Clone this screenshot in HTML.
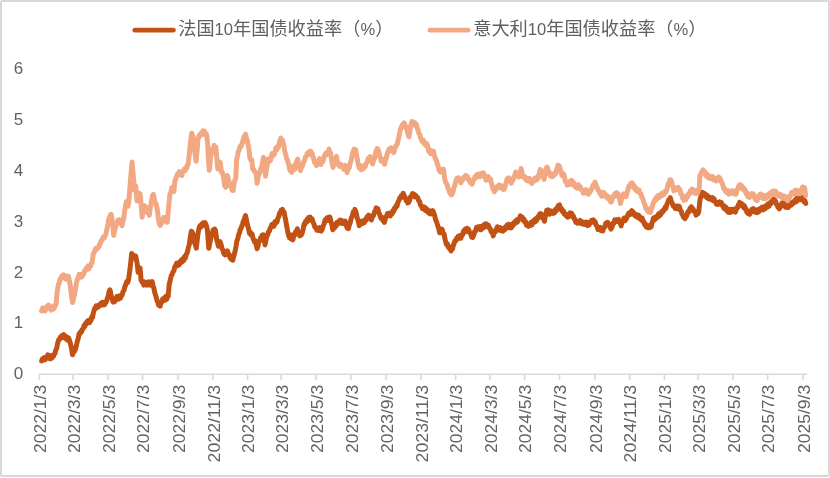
<!DOCTYPE html>
<html lang="zh-CN"><head><meta charset="utf-8"><title>法国与意大利10年国债收益率</title>
<style>
html,body{margin:0;padding:0;background:#fff;}
body{width:830px;height:478px;overflow:hidden;position:relative;}
svg{position:absolute;left:0;top:0;display:block;}
.ax{font-family:"Liberation Sans",sans-serif;font-size:17px;fill:#626262;}
.lg{font-family:"Liberation Sans","Noto Sans CJK SC",sans-serif;font-size:18.2px;fill:#5f5f5f;}
.lg .n{font-size:16.6px;}
</style></head><body>
<svg width="830" height="478" viewBox="0 0 830 478">
<rect x="0" y="0" width="830" height="478" fill="#fff"/>
<rect x="1" y="1" width="828" height="475" rx="1" fill="#fff" stroke="#d9d9d9" stroke-width="2"/>

<g stroke="#d9d9d9" stroke-width="1.6" fill="none">
<path d="M38.8,374.25 H807"/>
<path d="M39.4,374.25 V380 M73.0,374.25 V380 M107.8,374.25 V380 M142.6,374.25 V380 M178.0,374.25 V380 M212.8,374.25 V380 M247.6,374.25 V380 M281.2,374.25 V380 M316.0,374.25 V380 M350.8,374.25 V380 M386.1,374.25 V380 M420.9,374.25 V380 M455.7,374.25 V380 M489.9,374.25 V380 M524.7,374.25 V380 M559.5,374.25 V380 M594.9,374.25 V380 M629.7,374.25 V380 M664.4,374.25 V380 M698.1,374.25 V380 M732.9,374.25 V380 M767.7,374.25 V380 M803.0,374.25 V380 "/></g>
<g class="ax" text-anchor="start">
<text x="13.7" y="379.2">0</text>
<text x="13.7" y="328.4">1</text>
<text x="13.7" y="277.6">2</text>
<text x="13.7" y="226.8">3</text>
<text x="13.7" y="175.9">4</text>
<text x="13.7" y="125.1">5</text>
<text x="13.7" y="74.3">6</text>
</g>
<g class="ax" text-anchor="end">
<text transform="translate(46.1,384.8) rotate(-90)" textLength="68.3" lengthAdjust="spacingAndGlyphs">2022/1/3</text>
<text transform="translate(79.7,384.8) rotate(-90)" textLength="68.3" lengthAdjust="spacingAndGlyphs">2022/3/3</text>
<text transform="translate(114.5,384.8) rotate(-90)" textLength="68.3" lengthAdjust="spacingAndGlyphs">2022/5/3</text>
<text transform="translate(149.3,384.8) rotate(-90)" textLength="68.3" lengthAdjust="spacingAndGlyphs">2022/7/3</text>
<text transform="translate(184.7,384.8) rotate(-90)" textLength="68.3" lengthAdjust="spacingAndGlyphs">2022/9/3</text>
<text transform="translate(219.5,384.8) rotate(-90)" textLength="77.6" lengthAdjust="spacingAndGlyphs">2022/11/3</text>
<text transform="translate(254.3,384.8) rotate(-90)" textLength="68.3" lengthAdjust="spacingAndGlyphs">2023/1/3</text>
<text transform="translate(287.9,384.8) rotate(-90)" textLength="68.3" lengthAdjust="spacingAndGlyphs">2023/3/3</text>
<text transform="translate(322.7,384.8) rotate(-90)" textLength="68.3" lengthAdjust="spacingAndGlyphs">2023/5/3</text>
<text transform="translate(357.5,384.8) rotate(-90)" textLength="68.3" lengthAdjust="spacingAndGlyphs">2023/7/3</text>
<text transform="translate(392.8,384.8) rotate(-90)" textLength="68.3" lengthAdjust="spacingAndGlyphs">2023/9/3</text>
<text transform="translate(427.6,384.8) rotate(-90)" textLength="77.6" lengthAdjust="spacingAndGlyphs">2023/11/3</text>
<text transform="translate(462.4,384.8) rotate(-90)" textLength="68.3" lengthAdjust="spacingAndGlyphs">2024/1/3</text>
<text transform="translate(496.6,384.8) rotate(-90)" textLength="68.3" lengthAdjust="spacingAndGlyphs">2024/3/3</text>
<text transform="translate(531.4,384.8) rotate(-90)" textLength="68.3" lengthAdjust="spacingAndGlyphs">2024/5/3</text>
<text transform="translate(566.2,384.8) rotate(-90)" textLength="68.3" lengthAdjust="spacingAndGlyphs">2024/7/3</text>
<text transform="translate(601.6,384.8) rotate(-90)" textLength="68.3" lengthAdjust="spacingAndGlyphs">2024/9/3</text>
<text transform="translate(636.4,384.8) rotate(-90)" textLength="77.6" lengthAdjust="spacingAndGlyphs">2024/11/3</text>
<text transform="translate(671.1,384.8) rotate(-90)" textLength="68.3" lengthAdjust="spacingAndGlyphs">2025/1/3</text>
<text transform="translate(704.8,384.8) rotate(-90)" textLength="68.3" lengthAdjust="spacingAndGlyphs">2025/3/3</text>
<text transform="translate(739.6,384.8) rotate(-90)" textLength="68.3" lengthAdjust="spacingAndGlyphs">2025/5/3</text>
<text transform="translate(774.4,384.8) rotate(-90)" textLength="68.3" lengthAdjust="spacingAndGlyphs">2025/7/3</text>
<text transform="translate(809.7,384.8) rotate(-90)" textLength="68.3" lengthAdjust="spacingAndGlyphs">2025/9/3</text>
</g>
<path d="M41.6,361.0 L42.4,358.8 L43.2,360.0 L44.1,357.7 L45.1,359.8 L46.0,357.5 L46.8,358.3 L47.7,354.9 L48.5,356.4 L49.4,355.5 L50.2,358.9 L51.1,357.0 L51.9,358.0 L52.6,355.3 L53.4,356.3 L54.1,354.3 L55.0,353.4 L55.8,349.8 L56.7,348.4 L57.4,344.5 L58.1,341.6 L58.9,339.4 L59.6,339.5 L60.4,337.1 L61.1,337.9 L62.0,335.5 L62.8,336.6 L63.7,334.5 L64.5,337.8 L65.3,335.8 L66.1,339.0 L66.8,336.8 L67.6,340.3 L68.3,337.6 L69.1,339.3 L70.1,342.4 L71.1,346.4 L71.8,350.2 L72.6,354.8 L73.5,351.8 L74.3,351.8 L75.2,349.8 L76.2,346.6 L77.2,341.7 L78.2,338.6 L79.2,333.6 L80.0,333.7 L80.7,331.5 L81.5,332.0 L82.2,329.5 L83.2,328.8 L84.2,325.2 L85.0,326.3 L85.7,323.1 L86.5,323.7 L87.2,321.2 L88.0,322.7 L88.7,320.2 L89.5,322.8 L90.2,320.4 L91.0,320.5 L91.8,316.9 L92.6,317.3 L93.2,313.7 L93.8,311.3 L94.6,308.4 L95.4,308.6 L96.2,305.7 L97.0,307.7 L97.7,305.8 L98.5,306.8 L99.2,304.7 L100.0,305.6 L100.8,303.4 L101.5,304.8 L102.3,302.2 L103.0,305.0 L103.8,302.6 L104.5,304.7 L105.3,303.2 L106.3,301.9 L107.3,298.5 L108.2,296.3 L109.0,292.0 L109.9,289.8 L110.6,292.5 L111.3,296.5 L112.0,297.7 L112.7,301.2 L113.4,302.1 L114.3,302.1 L115.3,298.7 L116.0,300.2 L116.8,296.5 L117.5,299.4 L118.3,296.4 L119.0,299.0 L119.8,295.7 L120.5,298.2 L121.3,296.0 L122.2,294.9 L123.0,291.7 L123.9,290.7 L124.9,286.6 L125.9,284.4 L126.8,281.5 L127.6,282.6 L128.5,280.0 L129.3,274.3 L130.1,268.1 L130.9,261.0 L131.7,253.5 L132.7,256.1 L133.7,255.4 L134.7,258.2 L135.7,256.0 L136.4,259.9 L137.1,263.1 L138.1,272.3 L139.1,269.2 L140.1,268.1 L141.1,280.2 L142.1,282.1 L143.1,282.5 L143.8,285.2 L144.6,281.9 L145.3,284.2 L146.1,282.6 L146.8,285.2 L147.6,282.3 L148.3,284.8 L149.1,281.9 L149.9,285.3 L150.6,282.2 L151.4,283.9 L152.2,281.6 L153.0,285.6 L153.8,287.9 L154.8,292.7 L155.8,295.9 L156.8,299.9 L157.8,302.1 L158.6,305.1 L159.4,303.3 L160.2,306.1 L161.0,302.6 L161.8,302.2 L162.6,299.1 L163.5,300.5 L164.3,297.8 L165.2,300.1 L165.9,296.4 L166.7,299.3 L167.4,295.8 L168.2,296.4 L169.2,284.3 L170.2,280.5 L171.2,275.8 L172.1,274.6 L172.9,271.9 L173.8,271.0 L174.8,267.0 L175.8,265.5 L176.7,263.1 L177.5,265.8 L178.3,263.2 L179.2,264.9 L180.0,261.5 L180.8,262.9 L181.5,259.9 L182.3,261.8 L183.1,258.5 L183.8,260.5 L184.6,256.5 L185.3,258.1 L186.3,254.3 L187.3,252.5 L188.3,247.9 L189.3,244.4 L190.3,237.4 L191.3,231.3 L192.0,231.7 L192.7,233.3 L193.5,237.5 L194.3,242.3 L195.3,244.5 L196.3,248.2 L197.1,241.0 L197.9,234.2 L198.6,230.4 L199.3,227.3 L200.1,225.5 L200.8,227.2 L201.6,224.2 L202.3,225.9 L203.2,222.7 L204.1,224.7 L205.0,222.6 L205.9,224.2 L206.7,226.7 L207.4,230.1 L208.1,239.0 L208.8,248.2 L209.6,244.0 L210.4,240.5 L211.4,236.0 L212.4,232.6 L213.2,229.9 L213.9,232.4 L214.7,229.0 L215.4,230.2 L216.1,235.0 L216.8,240.3 L217.6,242.7 L218.4,246.3 L219.2,242.9 L220.0,241.7 L221.0,244.2 L222.0,248.7 L222.8,249.9 L223.6,252.9 L224.4,254.3 L225.2,254.9 L225.9,251.8 L226.7,253.7 L227.4,250.9 L228.3,254.0 L229.1,254.2 L230.0,257.8 L230.7,256.5 L231.4,259.4 L232.1,258.0 L232.8,260.1 L233.5,256.9 L234.2,254.9 L234.9,251.9 L235.9,246.9 L236.9,240.9 L237.8,238.7 L238.6,234.8 L239.5,232.9 L240.2,229.4 L241.0,228.9 L241.8,225.8 L242.5,225.1 L243.2,221.5 L244.0,220.6 L244.8,217.5 L245.5,215.7 L246.5,219.9 L247.5,225.3 L248.5,228.5 L249.5,233.4 L250.4,232.3 L251.2,235.1 L252.1,233.9 L252.8,237.3 L253.5,239.1 L254.5,242.0 L255.5,240.9 L256.3,245.2 L257.1,248.8 L258.0,245.9 L258.9,241.6 L259.8,241.0 L260.6,237.8 L261.5,237.1 L262.2,235.0 L262.9,236.9 L263.6,234.9 L264.3,240.2 L265.0,245.0 L265.8,241.4 L266.6,236.9 L267.6,235.1 L268.6,231.5 L269.4,231.2 L270.2,228.1 L271.0,227.4 L271.8,224.5 L272.5,226.6 L273.2,224.1 L274.0,226.1 L274.8,221.9 L275.5,223.6 L276.2,221.4 L277.0,222.0 L277.9,218.2 L278.7,216.8 L279.6,213.1 L280.3,213.5 L281.0,210.4 L281.7,210.8 L282.5,209.5 L283.3,212.4 L284.1,212.0 L284.9,216.5 L285.7,220.1 L286.4,224.6 L287.1,227.9 L287.8,232.1 L288.5,234.9 L289.4,237.7 L290.2,235.2 L291.1,238.9 L292.0,235.0 L292.8,239.9 L293.7,236.4 L294.7,235.2 L295.7,231.5 L296.5,232.1 L297.3,228.8 L298.2,233.0 L299.1,233.1 L299.8,235.9 L300.5,235.4 L301.5,234.7 L302.5,231.9 L303.3,228.5 L304.1,224.0 L304.9,224.5 L305.6,221.2 L306.4,222.3 L307.1,219.2 L307.9,221.1 L308.6,217.5 L309.4,219.3 L310.2,217.2 L311.2,220.1 L312.2,219.0 L313.0,222.2 L313.8,223.5 L314.8,227.0 L315.8,227.4 L316.8,230.2 L317.8,229.1 L318.8,230.4 L319.8,227.6 L320.5,230.9 L321.2,231.1 L322.2,229.4 L323.2,225.8 L324.2,223.7 L325.2,219.7 L326.1,220.8 L326.9,217.8 L327.8,220.3 L328.8,217.2 L329.8,217.0 L330.5,219.2 L331.2,222.4 L332.0,225.3 L332.8,229.7 L333.6,227.7 L334.5,227.9 L335.3,224.4 L336.2,226.1 L337.0,222.2 L337.9,223.9 L338.6,221.5 L339.3,223.1 L340.0,220.1 L340.7,222.0 L341.6,220.5 L342.4,223.4 L343.3,221.2 L344.3,223.6 L345.3,221.0 L346.3,225.5 L347.3,228.0 L348.3,228.6 L349.3,225.0 L350.3,222.4 L351.3,218.0 L352.3,216.1 L353.3,211.9 L354.1,212.7 L354.9,209.4 L355.7,211.2 L356.5,214.1 L357.3,218.4 L358.3,221.1 L359.3,225.6 L360.2,223.0 L361.0,224.0 L361.9,221.1 L362.7,223.5 L363.6,220.9 L364.4,222.7 L365.3,219.4 L366.1,220.4 L367.0,216.8 L367.8,218.4 L368.6,215.1 L369.4,215.9 L370.4,215.9 L371.4,220.0 L372.4,216.5 L373.4,215.9 L374.4,212.2 L375.4,210.4 L376.2,207.8 L377.0,210.7 L377.8,208.5 L378.8,212.4 L379.8,214.7 L380.8,218.1 L381.8,217.1 L382.7,220.2 L383.5,218.7 L384.4,222.4 L385.4,218.3 L386.4,216.6 L387.4,213.5 L388.4,213.8 L389.4,213.1 L390.4,215.8 L391.2,213.2 L392.1,213.8 L392.9,210.6 L393.7,211.3 L394.5,208.0 L395.3,208.5 L396.1,205.6 L396.9,206.5 L397.9,202.3 L398.9,200.6 L399.8,197.8 L400.6,197.9 L401.5,195.3 L402.4,197.0 L403.2,193.2 L404.1,195.6 L405.1,197.1 L406.1,200.7 L406.9,200.0 L407.7,203.0 L408.5,202.5 L409.5,200.6 L410.5,196.8 L411.5,196.6 L412.5,193.6 L413.3,195.3 L414.1,194.2 L414.9,196.9 L415.9,195.5 L416.9,197.5 L417.8,197.7 L418.7,200.7 L419.6,201.6 L420.6,205.4 L421.6,206.5 L422.4,208.6 L423.1,206.7 L423.9,209.1 L424.6,207.2 L425.4,210.5 L426.1,208.4 L426.9,211.2 L427.6,209.5 L428.5,212.7 L429.3,210.9 L430.1,213.7 L431.0,212.1 L431.9,214.0 L432.7,210.6 L433.6,212.6 L434.6,215.3 L435.6,219.7 L436.6,221.8 L437.6,225.4 L438.6,228.1 L439.6,232.7 L440.4,230.0 L441.3,232.7 L442.1,229.1 L443.1,233.5 L444.1,233.9 L444.9,238.7 L445.7,242.0 L446.5,244.6 L447.3,243.6 L448.1,246.9 L448.9,246.3 L449.6,248.7 L450.4,247.3 L451.1,251.0 L451.8,248.1 L452.5,249.0 L453.3,245.3 L454.1,243.7 L454.9,240.9 L455.7,241.0 L456.5,238.4 L457.4,239.0 L458.2,236.3 L459.1,237.1 L460.0,235.5 L460.8,238.3 L461.7,235.8 L462.7,234.6 L463.7,230.7 L464.5,232.3 L465.3,229.0 L466.1,230.5 L466.9,228.2 L467.8,231.3 L468.6,229.2 L469.6,232.6 L470.6,233.3 L471.6,237.1 L472.6,237.5 L473.6,235.6 L474.6,231.6 L475.6,231.1 L476.6,227.2 L477.5,229.2 L478.3,226.7 L479.2,228.5 L480.1,226.6 L480.9,229.8 L481.8,226.4 L482.6,228.5 L483.4,225.4 L484.2,227.5 L484.9,224.1 L485.7,226.5 L486.4,223.8 L487.2,225.0 L488.2,224.9 L489.2,227.9 L490.2,228.7 L491.2,231.9 L492.2,231.7 L493.2,235.9 L494.2,232.3 L495.2,232.1 L495.9,229.5 L496.6,229.7 L497.3,226.8 L498.2,230.0 L499.0,227.3 L499.9,230.3 L500.7,227.9 L501.5,230.8 L502.3,229.1 L503.1,231.1 L503.8,228.2 L504.6,229.8 L505.3,227.1 L506.2,228.2 L507.0,225.1 L507.9,226.5 L508.7,224.2 L509.5,227.8 L510.3,225.5 L511.1,227.9 L511.9,224.3 L512.7,226.2 L513.6,222.8 L514.4,223.8 L515.3,221.3 L516.0,223.0 L516.8,219.7 L517.5,221.9 L518.3,219.7 L519.3,219.0 L520.3,215.8 L521.3,218.7 L522.3,217.2 L523.1,220.3 L524.0,219.2 L524.8,222.1 L525.7,221.8 L526.5,225.1 L527.4,224.5 L528.4,226.4 L529.4,224.0 L530.3,225.5 L531.1,222.3 L532.0,224.9 L532.8,221.3 L533.6,222.3 L534.4,219.7 L535.2,221.8 L536.0,218.6 L536.8,220.3 L537.8,216.9 L538.8,217.5 L539.6,214.1 L540.4,213.5 L541.4,214.1 L542.4,217.9 L543.4,218.3 L544.4,221.3 L545.2,216.8 L546.0,213.3 L546.7,210.3 L547.4,211.2 L548.4,210.0 L549.4,214.3 L550.3,211.0 L551.2,212.9 L552.1,211.5 L552.9,213.4 L553.7,211.1 L554.5,212.9 L555.5,209.2 L556.5,210.7 L557.5,207.1 L558.5,205.5 L559.5,204.9 L560.5,209.1 L561.5,208.6 L562.5,211.8 L563.3,210.7 L564.1,213.8 L564.9,213.4 L565.8,215.6 L566.6,214.7 L567.5,217.3 L568.4,214.6 L569.2,216.5 L570.1,212.9 L570.9,215.9 L571.7,213.3 L572.5,215.5 L573.3,215.8 L574.1,218.8 L574.9,219.1 L575.8,222.3 L576.6,221.1 L577.5,223.2 L578.4,221.3 L579.3,222.7 L580.2,220.4 L581.0,223.4 L581.8,221.7 L582.6,224.0 L583.4,222.2 L584.2,224.5 L585.0,222.2 L585.9,224.3 L586.7,222.2 L587.6,225.7 L588.3,223.4 L589.0,225.0 L589.9,222.0 L590.7,223.1 L591.6,220.3 L592.5,222.0 L593.5,219.9 L594.4,221.1 L595.2,221.9 L596.0,225.2 L597.0,225.8 L598.0,229.5 L598.8,227.7 L599.5,229.7 L600.3,227.3 L601.1,230.8 L602.0,228.6 L602.8,231.0 L603.7,227.9 L604.7,227.1 L605.7,223.4 L606.6,224.9 L607.6,222.3 L608.5,223.5 L609.4,224.4 L610.2,227.7 L611.1,229.0 L612.1,227.0 L613.1,223.0 L614.0,223.2 L614.8,219.9 L615.7,221.6 L616.6,219.8 L617.6,221.5 L618.5,219.3 L619.4,222.3 L620.2,222.9 L621.1,225.9 L622.1,221.9 L623.1,220.2 L624.0,218.2 L624.8,220.8 L625.7,219.4 L626.4,218.9 L627.1,216.0 L627.8,215.5 L628.6,213.2 L629.4,214.9 L630.2,212.4 L631.0,213.9 L631.8,210.6 L632.6,211.7 L633.6,212.5 L634.6,215.3 L635.5,214.4 L636.3,216.5 L637.2,214.9 L638.1,217.7 L638.9,215.4 L639.8,218.5 L640.6,217.3 L641.4,220.0 L642.2,218.1 L643.0,221.6 L643.8,221.6 L644.6,224.6 L645.4,224.0 L646.2,226.9 L647.0,225.5 L647.8,227.7 L648.6,225.8 L649.5,227.7 L650.3,225.3 L651.2,226.8 L651.9,223.1 L652.6,221.0 L653.5,218.0 L654.4,220.0 L655.3,217.0 L656.2,218.6 L657.0,216.0 L657.9,217.1 L658.6,213.8 L659.3,216.2 L660.0,213.0 L660.7,214.7 L661.6,211.6 L662.4,212.5 L663.3,210.0 L664.2,210.2 L665.0,207.3 L665.9,208.3 L666.9,204.4 L667.9,202.3 L668.7,199.8 L669.5,200.4 L670.3,197.6 L671.3,201.4 L672.3,203.4 L673.3,206.0 L674.3,206.3 L675.1,208.3 L675.9,206.2 L676.7,208.8 L677.6,206.0 L678.4,208.8 L679.3,206.4 L680.3,210.1 L681.3,211.3 L682.0,214.2 L682.7,214.7 L683.4,217.1 L684.2,216.2 L685.0,218.6 L685.8,217.0 L686.8,215.6 L687.8,211.9 L688.8,212.1 L689.8,208.6 L690.5,210.5 L691.3,206.8 L692.0,209.0 L693.0,208.7 L694.0,211.3 L695.0,211.5 L696.0,215.2 L696.9,212.1 L697.9,213.8 L698.8,211.5 L699.8,201.0 L700.6,197.4 L701.4,195.0 L702.4,192.3 L703.4,193.4 L704.3,193.3 L705.1,196.2 L706.0,194.5 L706.8,197.5 L707.6,195.5 L708.4,198.7 L709.2,197.0 L710.0,199.2 L710.7,197.6 L711.5,199.2 L712.4,197.5 L713.2,200.7 L714.1,198.7 L714.9,201.6 L715.7,201.8 L716.5,204.3 L717.5,202.3 L718.5,204.3 L719.5,201.9 L720.5,202.7 L721.3,202.5 L722.1,205.3 L722.9,205.1 L723.8,208.3 L724.6,206.0 L725.5,209.5 L726.2,207.3 L727.0,211.1 L727.8,209.3 L728.5,212.4 L729.3,209.6 L730.1,212.4 L730.9,209.4 L731.8,211.8 L732.6,209.3 L733.5,211.1 L734.5,209.1 L735.5,212.1 L736.5,208.3 L737.5,207.9 L738.2,205.0 L738.9,205.4 L739.6,202.4 L740.5,205.0 L741.5,203.4 L742.2,206.1 L743.0,204.6 L743.8,207.6 L744.5,205.8 L745.2,209.1 L746.0,208.9 L746.8,212.1 L747.5,210.8 L748.2,213.5 L749.0,212.3 L749.8,214.3 L750.5,211.2 L751.2,212.1 L752.0,209.3 L752.8,211.5 L753.5,208.6 L754.3,211.7 L755.1,209.9 L755.9,212.4 L756.6,211.2 L757.4,212.5 L758.1,209.6 L759.1,211.5 L760.1,208.7 L761.1,209.9 L762.1,207.0 L763.1,210.0 L764.1,206.8 L765.1,208.8 L766.1,205.5 L767.1,207.4 L768.1,203.7 L769.1,206.2 L770.1,202.6 L771.1,203.6 L772.1,200.9 L772.9,201.9 L773.6,199.0 L774.6,199.9 L775.6,201.5 L776.4,204.1 L777.1,205.0 L777.9,207.2 L778.6,206.4 L779.4,208.9 L780.1,206.4 L780.9,206.6 L781.7,203.3 L782.5,205.0 L783.2,202.2 L784.0,205.5 L784.7,204.2 L785.5,207.1 L786.2,204.6 L787.0,207.4 L787.7,205.4 L788.5,207.4 L789.2,204.5 L790.0,205.7 L790.7,202.5 L791.5,205.0 L792.2,202.7 L793.0,203.6 L793.7,201.6 L794.5,202.5 L795.2,199.7 L796.0,202.0 L796.7,198.4 L797.5,200.1 L798.2,197.2 L799.2,199.9 L800.2,197.4 L801.0,199.7 L801.7,197.2 L802.5,199.8 L803.2,198.0 L804.0,201.8 L804.7,200.4 L805.7,203.4" fill="none" stroke="#c25114" stroke-width="5.0" stroke-linejoin="round" stroke-linecap="round"/>
<path d="M41.6,310.9 L42.8,307.8 L43.6,310.0 L44.3,308.7 L45.1,310.9 L45.9,307.7 L46.6,308.4 L47.4,305.8 L48.1,306.8 L48.9,305.2 L49.6,308.5 L50.4,307.5 L51.1,310.1 L51.9,307.3 L52.6,309.4 L53.4,306.1 L54.1,308.6 L55.1,305.5 L56.1,304.3 L57.1,292.1 L57.8,288.4 L58.5,284.0 L59.4,282.6 L60.2,278.8 L61.1,277.9 L62.0,275.9 L62.8,277.9 L63.7,274.8 L64.5,277.5 L65.3,275.6 L66.1,279.3 L66.9,277.0 L67.7,278.8 L68.5,276.4 L69.3,280.9 L70.1,284.1 L70.8,290.3 L71.5,296.1 L72.6,302.5 L73.6,297.9 L74.6,294.3 L75.4,289.0 L76.2,284.3 L77.2,280.0 L78.2,277.5 L79.0,274.6 L79.8,277.3 L80.6,274.4 L81.6,277.0 L82.6,275.2 L83.6,274.4 L84.6,270.6 L85.5,270.8 L86.3,268.1 L87.2,268.5 L88.1,265.9 L88.9,269.0 L89.8,266.4 L90.6,266.1 L91.4,263.3 L92.2,262.3 L93.2,254.0 L94.2,252.8 L95.2,249.1 L96.0,249.8 L96.7,247.7 L97.5,248.6 L98.2,246.8 L98.9,246.8 L99.6,244.1 L100.3,243.8 L101.3,240.4 L102.3,240.0 L103.2,237.1 L104.1,237.9 L105.0,236.3 L106.0,233.4 L107.0,228.9 L108.0,223.9 L109.0,218.0 L109.7,217.9 L110.4,214.9 L111.1,214.4 L111.8,217.9 L112.5,222.4 L113.1,228.7 L113.7,235.4 L114.4,231.6 L115.1,228.7 L116.1,224.8 L117.1,222.6 L118.0,220.0 L118.8,221.7 L119.7,219.7 L120.5,223.3 L121.3,223.5 L122.1,225.6 L122.9,221.4 L123.7,218.4 L124.4,213.1 L125.1,208.4 L125.8,204.4 L126.5,201.6 L127.3,203.4 L128.1,206.3 L129.1,198.1 L129.8,189.2 L130.5,180.0 L131.3,171.1 L132.1,161.9 L132.7,169.1 L133.3,176.0 L134.5,190.2 L135.7,186.0 L136.4,193.7 L137.1,201.1 L137.9,197.6 L138.8,192.9 L139.5,195.1 L140.2,194.1 L140.8,201.2 L141.4,208.1 L142.2,217.2 L143.0,212.4 L143.8,208.4 L144.6,205.7 L145.4,206.6 L146.3,208.9 L147.2,212.5 L148.2,212.1 L149.2,215.3 L149.9,210.5 L150.6,206.3 L151.4,201.4 L152.2,197.3 L152.8,194.8 L153.4,194.4 L154.1,198.0 L154.8,202.5 L155.5,202.6 L156.2,204.5 L156.8,207.0 L157.4,210.3 L158.6,220.2 L159.4,223.7 L160.2,225.5 L161.2,223.8 L162.2,219.7 L163.0,220.4 L163.8,217.4 L164.6,220.4 L165.5,218.6 L166.4,222.0 L167.3,222.2 L168.0,214.3 L168.7,206.1 L169.3,200.3 L169.9,194.1 L170.9,191.6 L171.9,187.5 L172.9,190.4 L173.9,191.5 L174.7,182.1 L175.7,178.5 L176.7,176.5 L177.6,173.8 L178.4,175.0 L179.3,171.6 L180.2,174.3 L181.0,172.5 L181.9,175.5 L182.6,172.1 L183.3,171.7 L184.2,169.1 L185.0,170.8 L185.9,167.8 L186.6,168.5 L187.3,164.9 L188.0,164.9 L189.1,156.1 L189.8,149.2 L190.5,142.0 L191.7,133.2 L192.4,135.1 L193.1,138.1 L193.8,144.0 L194.5,150.2 L195.3,155.5 L196.1,161.2 L197.1,150.0 L198.1,138.2 L199.1,135.4 L200.1,136.0 L201.1,133.0 L202.1,133.0 L202.9,130.8 L203.7,134.2 L204.5,131.1 L205.5,134.8 L206.5,134.0 L207.7,144.1 L208.5,160.2 L209.3,170.2 L210.5,158.0 L211.3,153.9 L212.2,148.8 L213.2,148.8 L214.2,145.4 L215.0,148.1 L215.8,147.0 L216.8,158.3 L217.8,169.1 L218.5,166.8 L219.2,163.6 L220.2,162.2 L220.8,167.0 L221.4,172.2 L222.3,172.2 L223.2,175.2 L223.9,180.1 L224.6,185.5 L225.2,185.4 L225.8,187.4 L226.5,181.2 L227.2,175.4 L227.9,177.2 L228.6,180.9 L229.4,182.4 L230.2,185.8 L231.2,186.3 L232.2,190.4 L233.2,190.6 L234.2,182.4 L235.0,179.8 L235.8,178.2 L236.6,160.2 L237.4,156.4 L238.2,151.9 L239.1,150.0 L239.9,146.6 L240.9,146.7 L241.9,143.9 L242.9,141.1 L243.9,136.7 L244.7,136.6 L245.5,134.1 L246.3,137.8 L247.1,139.8 L247.9,144.0 L248.7,147.1 L249.3,152.7 L249.9,158.1 L250.9,160.1 L251.9,160.1 L252.7,169.3 L253.7,169.4 L254.7,172.1 L255.5,172.1 L256.3,174.3 L257.1,183.3 L258.3,176.4 L259.1,173.5 L259.9,172.7 L260.9,168.4 L261.9,166.3 L262.7,161.4 L263.5,157.4 L264.7,161.2 L265.5,176.2 L266.7,168.0 L267.5,163.9 L268.4,158.9 L269.4,160.8 L270.4,160.8 L271.2,157.9 L272.0,153.6 L273.0,155.4 L274.0,154.9 L275.0,152.3 L276.0,147.8 L276.8,149.8 L277.6,146.5 L278.4,147.3 L279.2,143.1 L280.0,140.4 L280.8,138.2 L281.6,140.1 L282.5,140.1 L283.4,143.4 L284.1,146.9 L284.8,151.4 L285.6,154.1 L286.4,157.8 L287.4,159.9 L288.4,163.5 L289.2,166.6 L290.0,170.6 L290.8,169.7 L291.6,172.3 L292.5,168.3 L293.4,165.7 L294.1,166.7 L294.9,169.4 L295.7,164.9 L296.5,161.6 L297.7,159.1 L298.9,166.3 L299.7,167.6 L300.5,170.5 L301.5,166.8 L302.5,165.9 L303.5,162.0 L304.5,160.7 L305.5,156.8 L306.5,155.8 L307.3,153.3 L308.1,154.8 L308.9,151.7 L309.8,153.4 L310.6,151.0 L311.5,152.4 L312.2,153.4 L312.9,156.8 L313.7,158.8 L314.5,162.4 L315.5,162.1 L316.5,165.7 L317.3,162.8 L318.1,163.7 L318.8,160.4 L319.5,158.7 L320.2,160.9 L320.9,164.5 L321.9,161.1 L322.9,161.5 L323.8,157.7 L324.6,155.6 L325.6,153.3 L326.6,154.9 L327.4,151.9 L328.2,152.0 L329.0,149.1 L329.8,152.8 L330.6,153.1 L331.6,160.3 L332.3,163.5 L333.0,167.4 L334.0,163.6 L335.0,161.5 L335.7,158.2 L336.4,156.3 L337.0,160.0 L337.6,164.3 L338.6,163.6 L339.6,166.4 L340.6,164.3 L341.6,165.3 L342.6,165.4 L343.6,169.1 L344.4,166.0 L345.1,165.5 L346.1,168.2 L347.1,172.5 L348.1,168.9 L349.1,168.2 L350.1,163.6 L351.1,160.5 L352.1,155.3 L353.1,151.6 L354.0,149.2 L354.8,151.4 L355.7,149.7 L356.4,154.2 L357.1,158.0 L357.8,161.8 L358.5,165.1 L359.3,168.1 L360.1,168.6 L361.1,169.7 L362.1,165.9 L363.1,169.0 L364.1,167.2 L365.1,166.8 L366.1,163.4 L367.1,162.3 L368.1,158.6 L369.1,159.4 L370.1,156.6 L370.9,159.8 L371.8,160.8 L372.6,164.0 L373.6,160.1 L374.6,158.4 L375.4,153.9 L376.2,150.5 L377.2,148.5 L378.2,149.8 L379.0,152.5 L379.8,156.5 L380.5,158.0 L381.2,161.1 L382.2,159.0 L383.2,159.8 L383.9,161.1 L384.6,164.3 L385.4,160.5 L386.2,158.4 L387.2,154.0 L388.2,151.5 L389.2,149.1 L390.2,150.8 L391.2,147.9 L392.2,149.9 L393.0,149.7 L393.8,152.6 L394.5,149.3 L395.2,147.6 L396.2,145.4 L397.2,144.6 L397.9,141.0 L398.6,138.3 L399.5,133.7 L400.3,130.3 L401.1,127.1 L401.9,126.6 L402.7,124.4 L403.5,126.0 L404.3,122.9 L405.3,127.0 L406.3,126.8 L407.1,130.7 L407.9,133.8 L408.9,136.8 L409.6,132.2 L410.3,128.4 L411.1,124.5 L411.9,121.6 L412.9,121.7 L413.9,124.5 L414.7,122.6 L415.5,125.6 L416.3,124.4 L417.1,127.9 L417.9,129.6 L418.9,133.4 L419.9,134.6 L420.6,137.9 L421.3,139.7 L422.3,141.7 L423.3,140.2 L424.0,143.4 L424.7,143.0 L425.6,145.3 L426.5,143.2 L427.4,145.5 L428.1,148.0 L428.8,151.5 L429.8,149.9 L430.8,153.8 L431.7,151.1 L432.5,152.6 L433.4,151.2 L434.1,154.7 L434.8,156.7 L435.6,159.4 L436.4,160.4 L437.2,163.9 L438.0,165.6 L438.7,168.9 L439.4,170.9 L440.4,171.8 L441.4,169.8 L442.4,171.9 L443.4,169.2 L444.1,174.5 L444.8,179.2 L445.8,182.6 L446.8,183.8 L447.8,187.7 L448.8,189.4 L449.6,192.8 L450.4,192.8 L451.2,195.0 L452.0,194.4 L453.0,191.8 L454.0,187.5 L454.7,186.0 L455.4,182.6 L456.1,181.2 L456.9,178.3 L457.7,180.1 L458.5,177.7 L459.3,180.7 L460.1,180.4 L460.9,182.8 L461.9,179.3 L462.9,179.6 L463.9,176.9 L464.9,177.0 L465.8,175.4 L466.6,177.7 L467.5,176.6 L468.5,180.2 L469.5,179.8 L470.4,182.8 L471.2,181.1 L472.1,184.3 L473.1,180.7 L474.1,179.6 L475.1,176.5 L476.1,175.8 L476.9,174.7 L477.7,177.0 L478.5,174.0 L479.2,176.6 L480.0,174.8 L480.8,176.5 L481.6,173.4 L482.4,175.5 L483.4,172.8 L484.4,175.6 L485.2,176.7 L486.0,180.1 L486.8,176.7 L487.6,178.9 L488.4,176.6 L489.4,180.0 L490.4,178.8 L491.2,182.5 L492.0,185.0 L492.8,188.4 L493.6,189.8 L494.4,191.7 L495.3,188.7 L496.1,189.5 L497.1,186.7 L498.1,187.3 L498.9,185.0 L499.7,187.6 L500.5,185.4 L501.5,188.0 L502.5,186.3 L503.3,189.5 L504.1,189.3 L504.9,187.4 L505.7,183.7 L506.4,181.9 L507.1,178.7 L508.0,180.4 L508.8,177.8 L509.7,181.0 L510.5,179.6 L511.3,183.1 L512.1,180.9 L513.1,179.9 L514.1,176.4 L514.9,175.6 L515.7,172.0 L516.7,174.9 L517.7,173.8 L518.4,177.1 L519.1,177.0 L520.1,173.4 L521.1,168.5 L521.9,172.5 L522.6,174.6 L523.5,177.2 L524.3,176.4 L525.2,178.8 L526.1,177.7 L526.9,180.5 L527.8,178.7 L528.6,181.1 L529.4,178.5 L530.2,180.2 L531.0,180.1 L531.8,183.5 L532.8,181.4 L533.8,181.2 L534.6,178.4 L535.4,180.4 L536.2,177.9 L537.0,179.6 L537.8,176.4 L538.6,177.6 L539.4,172.9 L540.2,169.5 L541.2,170.4 L542.2,173.7 L543.2,175.5 L544.2,179.4 L545.0,174.4 L545.8,170.2 L546.5,167.6 L547.2,167.1 L547.9,169.7 L548.6,173.6 L549.5,172.4 L550.4,175.9 L551.3,174.5 L552.2,176.7 L553.0,174.0 L553.9,175.8 L554.9,172.9 L555.9,173.6 L556.6,169.8 L557.3,167.4 L558.0,165.1 L558.7,165.7 L559.5,166.4 L560.3,169.2 L561.1,171.5 L561.9,175.4 L562.9,173.7 L563.9,174.6 L564.6,177.4 L565.3,181.5 L566.3,181.7 L567.3,185.2 L568.2,183.4 L569.0,184.7 L569.9,181.4 L570.7,184.2 L571.5,180.3 L572.3,182.6 L573.3,182.2 L574.3,185.9 L575.1,184.4 L575.9,187.5 L576.7,187.1 L577.6,188.3 L578.5,184.7 L579.4,187.1 L580.4,186.8 L581.4,190.0 L582.4,190.1 L583.4,193.1 L584.3,190.5 L585.1,193.0 L586.0,189.6 L586.8,192.5 L587.6,190.7 L588.4,194.3 L589.3,191.0 L590.1,192.2 L591.0,189.6 L592.0,188.5 L593.0,185.1 L594.0,184.7 L595.0,182.0 L596.0,185.5 L597.0,187.1 L598.0,190.2 L599.0,190.8 L599.9,193.4 L600.8,192.6 L601.7,196.3 L602.5,192.6 L603.3,194.6 L604.1,192.7 L604.9,196.1 L605.7,194.6 L606.5,197.2 L607.4,195.8 L608.2,198.6 L609.1,197.2 L610.1,201.0 L611.1,202.2 L612.1,200.3 L613.1,196.4 L614.0,196.9 L614.8,193.7 L615.7,194.7 L616.5,192.5 L617.3,195.8 L618.1,193.6 L618.9,197.3 L619.7,199.4 L620.5,203.4 L621.5,199.1 L622.5,196.2 L623.5,193.9 L624.5,195.2 L625.3,194.0 L626.1,196.8 L627.0,192.6 L627.8,190.0 L628.8,186.4 L629.8,186.7 L630.6,183.6 L631.4,185.6 L632.2,182.8 L633.0,186.3 L633.8,185.4 L634.6,188.6 L635.5,187.3 L636.3,190.7 L637.2,189.6 L638.1,191.9 L638.9,189.8 L639.8,192.8 L640.8,193.7 L641.8,197.2 L642.8,198.7 L643.8,202.3 L644.8,204.3 L645.8,208.3 L646.6,207.8 L647.4,210.9 L648.2,209.3 L649.0,212.2 L649.8,210.2 L650.6,212.3 L651.4,208.6 L652.2,206.4 L653.2,203.2 L654.2,201.5 L655.0,199.2 L655.9,200.0 L656.7,196.9 L657.6,198.3 L658.4,195.4 L659.3,197.4 L660.2,194.7 L661.0,196.3 L661.9,193.3 L662.7,195.3 L663.5,192.8 L664.3,194.1 L665.1,191.3 L665.9,191.9 L666.7,190.3 L667.5,187.4 L668.3,183.5 L669.1,183.1 L669.9,179.7 L670.7,179.8 L671.5,181.6 L672.3,185.3 L673.1,187.1 L673.9,190.9 L674.7,188.9 L675.5,189.9 L676.3,187.8 L677.1,189.5 L677.9,187.2 L678.7,189.3 L679.7,189.4 L680.7,193.3 L681.7,194.5 L682.7,198.3 L683.4,197.8 L684.1,200.4 L684.8,197.8 L685.7,199.7 L686.5,195.8 L687.4,197.2 L688.4,194.3 L689.4,194.1 L690.3,190.7 L691.1,192.2 L692.0,189.1 L692.8,191.7 L693.6,189.8 L694.4,193.0 L695.2,191.3 L696.0,193.6 L696.8,191.2 L697.6,192.8 L698.4,189.4 L699.2,189.2 L699.9,175.7 L700.6,175.1 L701.3,172.5 L702.0,172.5 L703.0,169.8 L704.0,172.0 L705.0,171.9 L706.0,175.9 L706.9,174.3 L707.9,177.5 L708.8,176.0 L709.7,178.4 L710.6,176.6 L711.5,178.0 L712.2,176.4 L713.0,179.5 L713.8,177.5 L714.5,180.2 L715.3,178.4 L716.1,181.0 L716.9,179.6 L717.8,180.2 L718.6,177.0 L719.5,177.8 L720.5,179.1 L721.5,182.2 L722.5,183.9 L723.5,188.3 L724.4,188.2 L725.2,191.0 L726.1,190.5 L727.0,192.7 L728.0,190.6 L728.9,194.2 L729.8,191.3 L730.6,193.1 L731.5,190.9 L732.4,193.1 L733.2,190.8 L734.1,193.8 L735.1,192.0 L736.1,194.3 L737.1,189.8 L738.1,188.2 L739.0,185.4 L740.0,187.5 L740.6,184.6 L741.2,185.6 L741.9,186.3 L742.5,189.1 L743.5,187.8 L744.5,190.7 L745.2,190.0 L746.0,193.3 L746.8,192.6 L747.5,196.4 L748.5,195.0 L749.5,197.5 L750.2,194.3 L751.0,196.2 L751.8,193.6 L752.5,195.3 L753.3,193.9 L754.1,197.1 L754.9,196.3 L755.6,199.7 L756.4,198.1 L757.1,200.7 L757.9,197.7 L758.6,197.8 L759.4,194.8 L760.1,195.5 L760.9,194.2 L761.6,197.5 L762.4,195.7 L763.1,198.5 L764.1,195.4 L765.1,198.7 L766.1,195.9 L767.1,197.7 L768.1,194.5 L769.1,196.9 L770.1,193.0 L771.1,194.6 L772.1,191.5 L773.1,193.8 L774.0,190.8 L774.9,192.2 L775.8,191.5 L776.6,194.9 L777.6,193.4 L778.6,196.1 L779.4,194.4 L780.1,196.0 L780.9,194.6 L781.7,197.4 L782.7,195.7 L783.7,198.3 L784.7,196.0 L785.7,198.8 L786.7,197.0 L787.7,200.8 L788.5,197.2 L789.2,198.7 L790.0,195.6 L790.7,195.5 L791.5,192.6 L792.2,194.0 L793.2,192.0 L794.2,194.0 L795.2,190.2 L796.2,193.5 L797.2,190.4 L798.2,193.7 L799.2,191.0 L800.2,193.6 L801.0,189.9 L801.7,189.6 L802.5,187.0 L803.2,188.0 L804.4,187.5 L805.2,192.4 L805.7,195.5" fill="none" stroke="#f2a883" stroke-width="5.0" stroke-linejoin="round" stroke-linecap="round"/>
<g stroke-width="4.7" stroke-linecap="round" fill="none"><path d="M134.8,30.2 H173.4" stroke="#c25114"/><path d="M430,30.2 H468.2" stroke="#f2a883"/></g>
<text class="lg" x="178.2" y="35.2">法国<tspan class="n">10</tspan>年国债收益率（<tspan class="n">%</tspan>）</text>
<text class="lg" x="473.2" y="35.2">意大利<tspan class="n">10</tspan>年国债收益率（<tspan class="n">%</tspan>）</text>
</svg></body></html>
